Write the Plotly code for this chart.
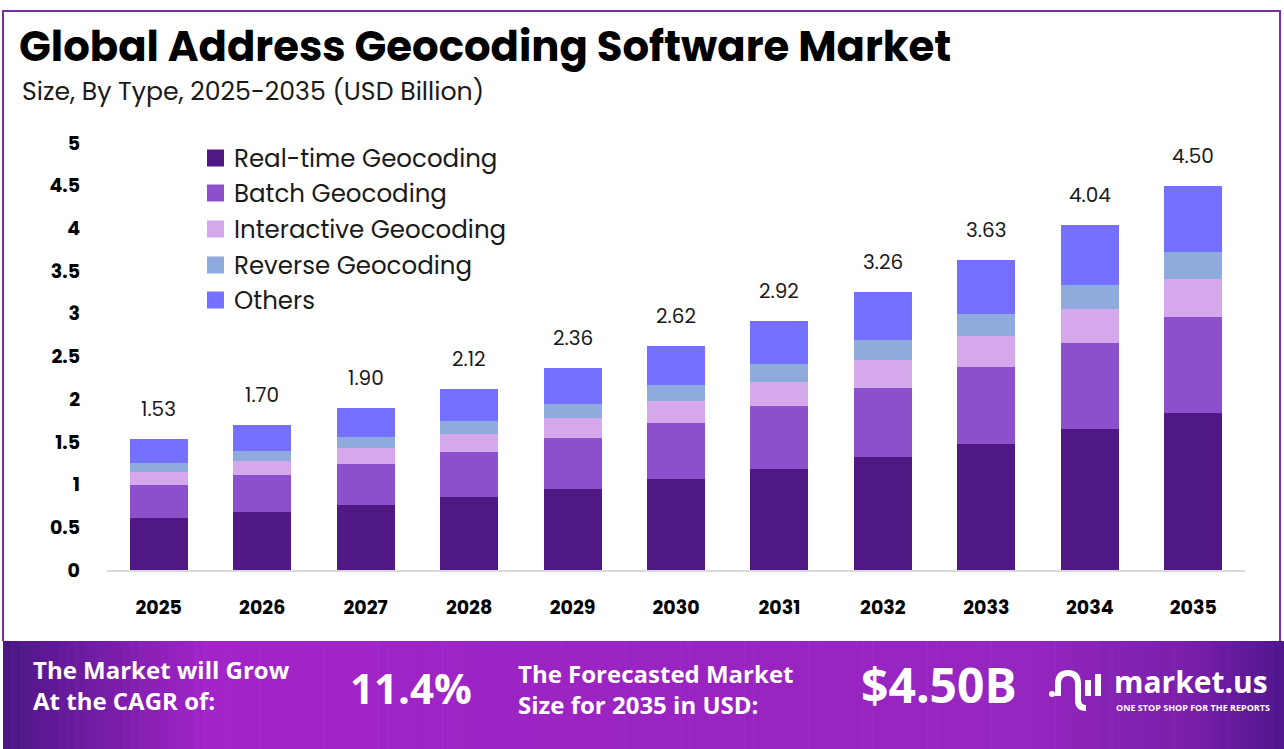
import plotly.graph_objects as go

W, H = 1284, 749
years = ["2025", "2026", "2027", "2028", "2029", "2030", "2031", "2032", "2033", "2034", "2035"]
realtime = [0.61, 0.68, 0.76, 0.85, 0.95, 1.07, 1.18, 1.32, 1.48, 1.65, 1.84]
batch = [0.39, 0.43, 0.48, 0.53, 0.60, 0.65, 0.74, 0.81, 0.90, 1.01, 1.12]
interactive = [0.15, 0.17, 0.19, 0.21, 0.23, 0.26, 0.28, 0.33, 0.36, 0.40, 0.45]
reverse = [0.10, 0.11, 0.13, 0.15, 0.16, 0.19, 0.21, 0.23, 0.26, 0.28, 0.31]
others = [0.28, 0.31, 0.34, 0.38, 0.42, 0.45, 0.51, 0.57, 0.63, 0.70, 0.78]
totals = [1.53, 1.70, 1.90, 2.12, 2.36, 2.62, 2.92, 3.26, 3.63, 4.04, 4.50]
y_ticks = [0, 0.5, 1, 1.5, 2, 2.5, 3, 3.5, 4, 4.5, 5]
y_tick_text = ["0", "0.5", "1", "1.5", "2", "2.5", "3", "3.5", "4", "4.5", "5"]

series = [
    ("Real-time Geocoding", realtime, "#4F1882"),
    ("Batch Geocoding", batch, "#8C50CC"),
    ("Interactive Geocoding", interactive, "#D4A8EA"),
    ("Reverse Geocoding", reverse, "#8FAADC"),
    ("Others", others, "#7570FF"),
]

PFONT = "Poppins, Open Sans, Lato, sans-serif"
FONT = "Open Sans, Lato, DejaVu Sans, sans-serif"

# plot area in pixels
L, R, T, B = 107, 1245, 143, 570

def px(x):
    return (x - L) / (R - L)

def py(y):
    return (B - y) / (B - T)

fig = go.Figure()
for name, vals, col in series:
    fig.add_trace(go.Bar(x=years, y=vals, name=name, marker=dict(color=col, line=dict(width=0))))

annotations = []
for i, t in enumerate(totals):
    annotations.append(dict(x=i, y=t, xref="x", yref="y", text=f"{t:.2f}", showarrow=False,
                            yanchor="bottom", yshift=14, font=dict(family=PFONT, size=20, color="#1a1a1a")))

# Title / subtitle
annotations.append(dict(x=px(17), y=py(47), xref="paper", yref="paper", xanchor="left", yanchor="middle",
                        text="<b>Global Address Geocoding Software Market</b>", showarrow=False,
                        font=dict(family=PFONT, size=41.8, color="#000000")))
annotations.append(dict(x=px(20), y=py(91), xref="paper", yref="paper", xanchor="left", yanchor="middle",
                        text="Size, By Type, 2025-2035 (USD Billion)", showarrow=False,
                        font=dict(family=PFONT, size=25.2, color="#1a1a1a")))

shapes = []
# manual legend
leg_y = [158, 193, 229, 265, 300]
for (name, vals, col), yy in zip(series, leg_y):
    shapes.append(dict(type="rect", xref="paper", yref="paper", x0=px(207), x1=px(224), y0=py(yy + 8.5), y1=py(yy - 8.5),
                       fillcolor=col, line=dict(width=0)))
    annotations.append(dict(x=px(232), y=py(yy), xref="paper", yref="paper", xanchor="left", yanchor="middle",
                            text=name, showarrow=False, font=dict(family=PFONT, size=24.5, color="#1a1a1a")))

# Footer texts
white = "#ffffff"
annotations += [
    dict(x=px(31), y=py(685), xref="paper", yref="paper", xanchor="left", yanchor="middle",
         text="<b>The Market will Grow<br>At the CAGR of:</b>", showarrow=False, align="left",
         font=dict(family=FONT, size=24, color=white)),
    dict(x=px(411), y=py(688), xref="paper", yref="paper", xanchor="center", yanchor="middle",
         text="<b>11.4%</b>", showarrow=False, font=dict(family=FONT, size=42, color=white)),
    dict(x=px(516), y=py(689), xref="paper", yref="paper", xanchor="left", yanchor="middle",
         text="<b>The Forecasted Market<br>Size for 2035 in USD:</b>", showarrow=False, align="left",
         font=dict(family=FONT, size=24, color=white)),
    dict(x=px(939), y=py(684), xref="paper", yref="paper", xanchor="center", yanchor="middle",
         text="<b>$4.50B</b>", showarrow=False, font=dict(family=FONT, size=48, color=white)),
    dict(x=px(1112), y=py(681), xref="paper", yref="paper", xanchor="left", yanchor="middle",
         text="<b>market.us</b>", showarrow=False, font=dict(family=FONT, size=30, color=white)),
    dict(x=px(1114), y=py(707), xref="paper", yref="paper", xanchor="left", yanchor="middle",
         text="<b>ONE STOP SHOP FOR THE REPORTS</b>", showarrow=False, font=dict(family=FONT, size=9, color=white)),
]

# footer gradient
def lerp(c1, c2, t):
    return tuple(int(round(a + (b - a) * t)) for a, b in zip(c1, c2))

stops = [(0.0, (74, 22, 134)), (0.16, (163, 36, 200)), (0.5, (154, 36, 194)), (0.8, (150, 38, 192)),
         (0.93, (120, 30, 170)), (1.0, (80, 22, 140))]
x0f, x1f = 3, 1284
n = 140
for i in range(n):
    a = x0f + (x1f - x0f) * i / n
    b = x0f + (x1f - x0f) * (i + 1) / n + 0.6
    t = (i + 0.5) / n
    for j in range(len(stops) - 1):
        if stops[j][0] <= t <= stops[j + 1][0]:
            tt = (t - stops[j][0]) / (stops[j + 1][0] - stops[j][0])
            c = lerp(stops[j][1], stops[j + 1][1], tt)
            break
    shapes.append(dict(type="rect", xref="paper", yref="paper", x0=px(a), x1=px(b), y0=py(749), y1=py(641),
                       line=dict(width=0), fillcolor=f"rgb{c}", layer="below"))
# border
bc = "#7B2FA5"
shapes.append(dict(type="line", xref="paper", yref="paper", x0=px(2), x1=px(1281), y0=py(11), y1=py(11), line=dict(color=bc, width=2)))
shapes.append(dict(type="line", xref="paper", yref="paper", x0=px(3), x1=px(3), y0=py(11), y1=py(641), line=dict(color=bc, width=2)))
shapes.append(dict(type="line", xref="paper", yref="paper", x0=px(1280), x1=px(1280), y0=py(11), y1=py(641), line=dict(color=bc, width=2)))

# logo icon (approximation)
lx = lambda v: px(v)
ly = lambda v: py(v)
shapes.append(dict(type="path", xref="paper", yref="paper",
                   path=f"M {lx(1058)},{ly(696)} L {lx(1058)},{ly(684)} Q {lx(1058)},{ly(673)} {lx(1068)},{ly(673)} Q {lx(1078)},{ly(673)} {lx(1078)},{ly(684)} L {lx(1078)},{ly(700)} Q {lx(1078)},{ly(708)} {lx(1086)},{ly(708)}",
                   line=dict(color=white, width=6)))
shapes.append(dict(type="circle", xref="paper", yref="paper", x0=lx(1049), x1=lx(1055), y0=ly(697), y1=ly(691),
                   fillcolor=white, line=dict(width=0)))
shapes.append(dict(type="line", xref="paper", yref="paper", x0=lx(1088), x1=lx(1088), y0=ly(680), y1=ly(696), line=dict(color=white, width=6)))
shapes.append(dict(type="line", xref="paper", yref="paper", x0=lx(1098), x1=lx(1098), y0=ly(674), y1=ly(696), line=dict(color=white, width=6)))

fig.update_layout(
    width=W, height=H,
    barmode="stack", bargap=0.44,
    paper_bgcolor="white", plot_bgcolor="white",
    margin=dict(l=L, r=W - R, t=T, b=H - B, pad=0),
    font=dict(family=PFONT, color="#000"),
    showlegend=False,
    xaxis=dict(type="category", range=[-0.5, len(years) - 0.5], autorange=False, showgrid=False, showline=True,
               linecolor="#d9d9d9", linewidth=2, ticks="",
               tickfont=dict(family=PFONT, size=19, color="#000"), ticklabelstandoff=19,
               tickvals=years, ticktext=[f"<b>{y}</b>" for y in years]),
    yaxis=dict(range=[0, 5], autorange=False, showgrid=False, showline=False, zeroline=False, tickvals=y_ticks,
               ticktext=[f"<b>{t}</b>" for t in y_tick_text], tickfont=dict(family=PFONT, size=19, color="#000"),
               ticklabelstandoff=26),
    annotations=annotations,
    shapes=shapes,
)

fig.write_html("out.html")
